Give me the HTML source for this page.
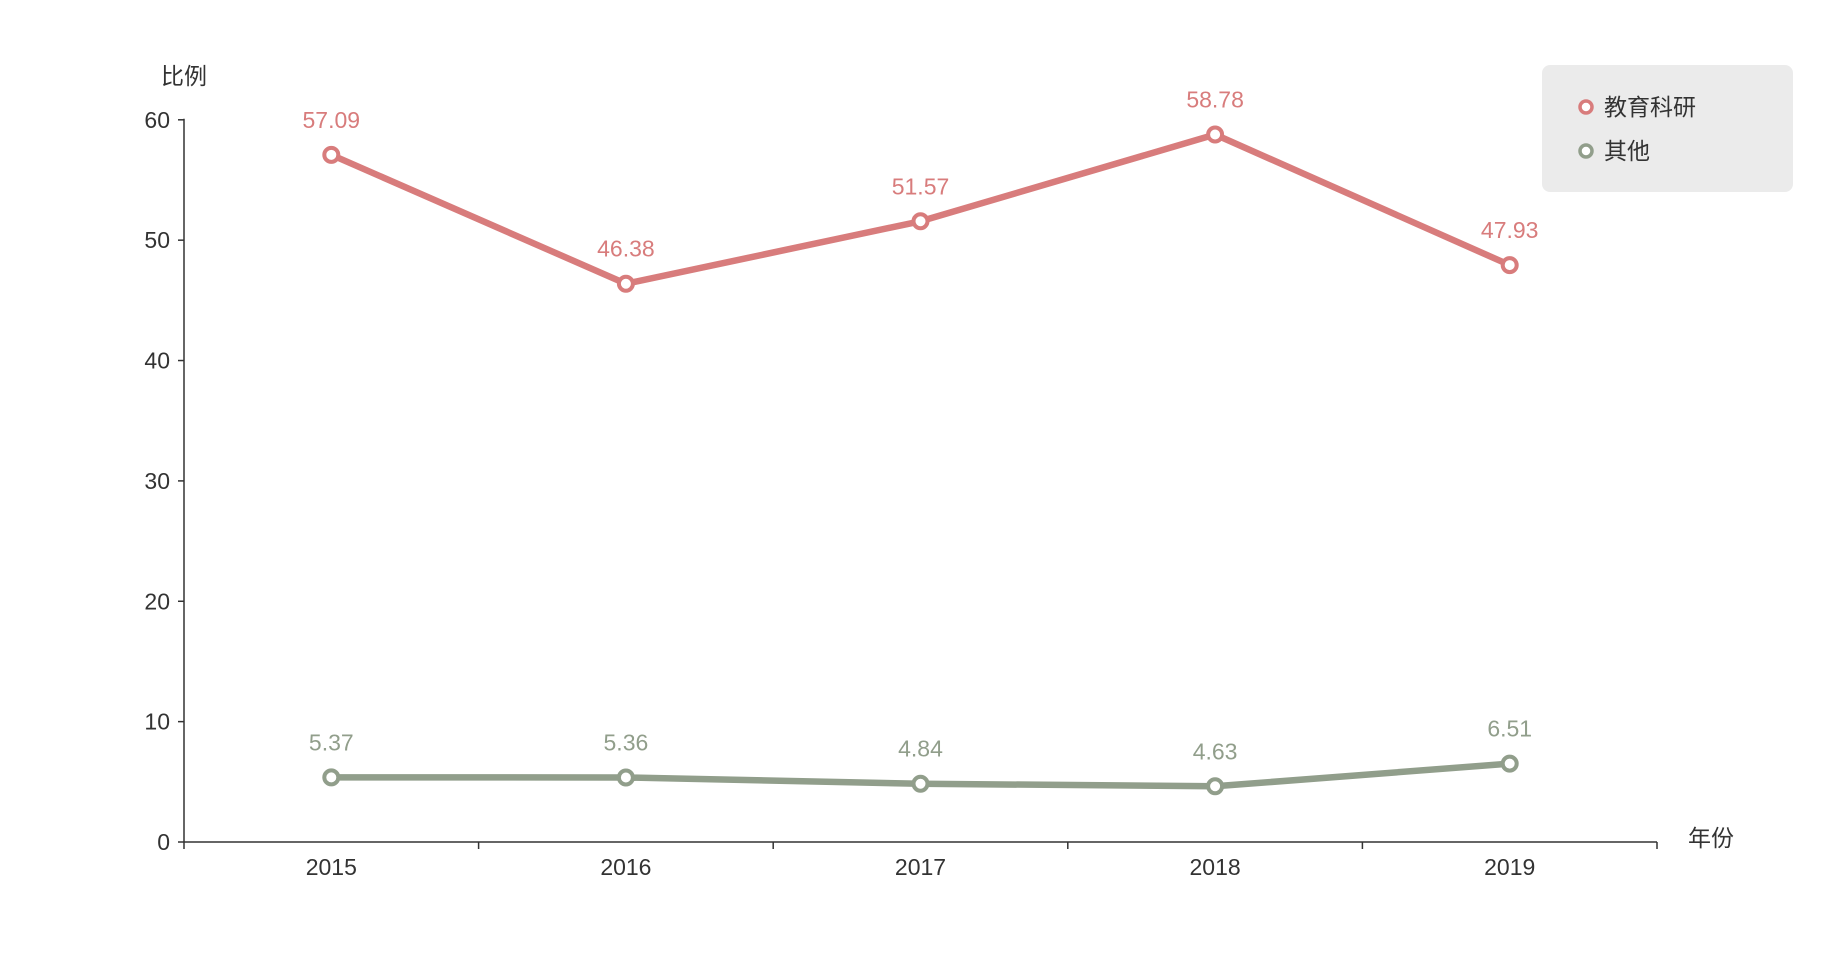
<!DOCTYPE html>
<html><head><meta charset="utf-8"><style>
body{margin:0;background:#fff;}
svg{display:block;font-family:"Liberation Sans","Noto Sans CJK SC",sans-serif;}
</style></head><body>
<svg id="chart" width="1840" height="961">
<g id="axes"></g><g id="series"></g>
<g>
<rect x="1542" y="65" width="251" height="127" rx="8" fill="#ebebeb"/>
<g><circle cx="1586" cy="107" r="6" fill="#fff" stroke="#d87c7c" stroke-width="3.5"/><text x="1604" y="115" font-size="23" fill="#333">教育科研</text></g>
<g><circle cx="1586" cy="151" r="6" fill="#fff" stroke="#919e8b" stroke-width="3.5"/><text x="1604" y="159" font-size="23" fill="#333">其他</text></g>
</g>
</svg>
<script>
const categories=["2015","2016","2017","2018","2019"];
const eduValues=[57.09,46.38,51.57,58.78,47.93];
const otherValues=[5.37,5.36,4.84,4.63,6.51];
const yTicks=[0,10,20,30,40,50,60];
const NS="http://www.w3.org/2000/svg";
const x0=184,x1=1657,yBase=842,yTop=119.8,yMax=60;
const band=(x1-x0)/categories.length;
const xs=i=>x0+band*(i+0.5);
const ys=v=>yBase-(v/yMax)*(yBase-yTop);
function mk(tag,attrs,parent,txt){const e=document.createElementNS(NS,tag);for(const k in attrs)e.setAttribute(k,attrs[k]);if(txt!==undefined)e.textContent=txt;parent.appendChild(e);return e;}
const ax=document.getElementById('axes');
let e=mk('line',{x1:x0,y1:yTop-1,x2:x0,y2:yBase,stroke:'#333','stroke-width':1.5},ax);


e=mk('line',{x1:x0,y1:yBase,x2:x1,y2:yBase,stroke:'#333','stroke-width':1.5},ax);


yTicks.forEach(t=>{const y=ys(t);
mk('line',{x1:x0-6,y1:y,x2:x0,y2:y,stroke:'#333','stroke-width':1.5},ax);
const tx=mk('text',{x:x0-14,y:y+8,'text-anchor':'end','font-size':23,fill:'#333'},ax,String(t));

});
for(let i=0;i<=categories.length;i++){const x=x0+band*i;mk('line',{x1:x,y1:yBase,x2:x,y2:yBase+7,stroke:'#333','stroke-width':1.5},ax);}
categories.forEach((c,i)=>{const tx=mk('text',{x:xs(i),y:yBase+33,'text-anchor':'middle','font-size':23,fill:'#333'},ax,c);

});
e=mk('text',{x:184,y:84,'text-anchor':'middle','font-size':23,fill:'#333'},ax,'比例');


e=mk('text',{x:1688,y:846,'font-size':23,fill:'#333'},ax,'年份');


const sg=document.getElementById('series');
function drawSeries(vals,color,name){
const g=mk('g',{},sg);


const pts=vals.map((v,i)=>xs(i)+','+ys(v)).join(' ');
const pl=mk('polyline',{points:pts,fill:'none',stroke:color,'stroke-width':6.5,'stroke-linejoin':'round'},g);


vals.forEach((v,i)=>{
const c=mk('circle',{cx:xs(i),cy:ys(v),r:7,fill:'#fff',stroke:color,'stroke-width':4},g);


const t=mk('text',{x:xs(i),y:ys(v)-27,'text-anchor':'middle','font-size':23,fill:color},g,v.toFixed(2));

});}
drawSeries(eduValues,'#d87c7c','edu-series');
drawSeries(otherValues,'#919e8b','other-series');
</script>
</body></html>
